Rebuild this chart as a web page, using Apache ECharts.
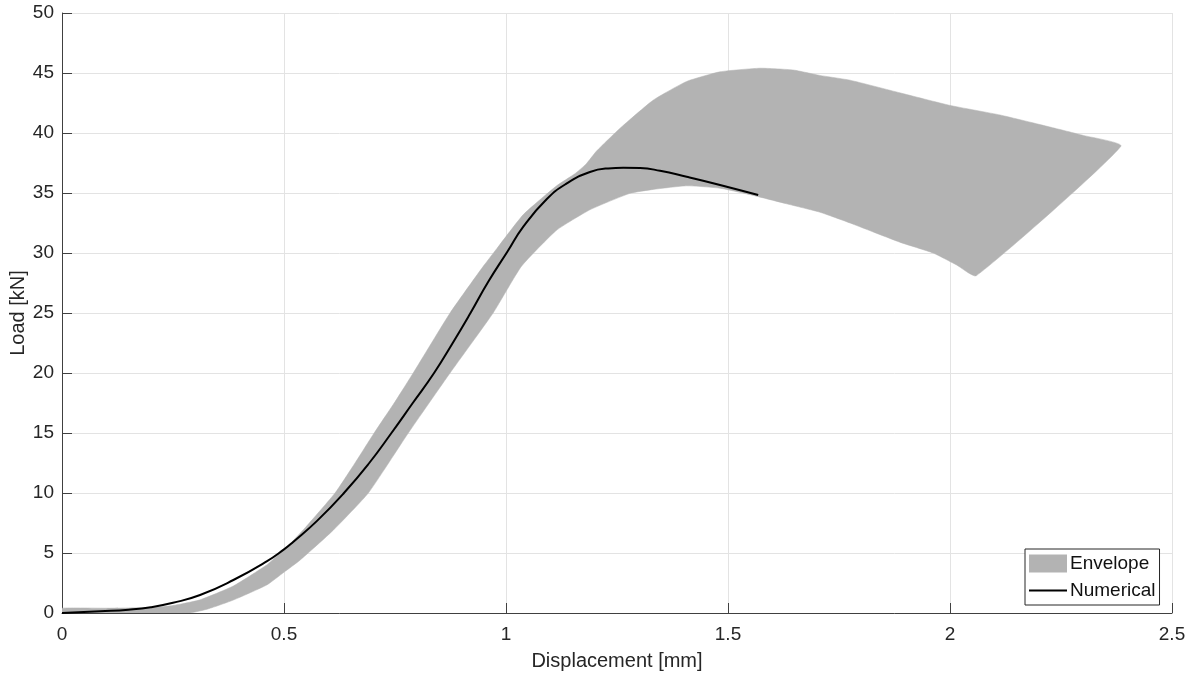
<!DOCTYPE html>
<html>
<head>
<meta charset="utf-8">
<script src="https://cdn.jsdelivr.net/npm/echarts@6/dist/echarts.min.js"></script>
<style>
  html, body { margin: 0; padding: 0; background: #ffffff; }
  #chart { width: 1195px; height: 673px; }
</style>
</head>
<body>
<div id="chart"></div>
<script>
// Tick labels / axis ranges
const xTicks = [0, 0.5, 1, 1.5, 2, 2.5];
const yTicks = [0, 5, 10, 15, 20, 25, 30, 35, 40, 45, 50];

// Envelope upper boundary [displacement mm, load kN] (left to right, ends at right tip)
const envelopeUpper = [
  [0, 0.4], [0.1, 0.4], [0.2, 0.45], [0.25, 0.62], [0.311, 1.1], [0.386, 2.25],
  [0.461, 4.0], [0.485, 4.8], [0.52, 6.0], [0.55, 7.2], [0.615, 10.0], [0.66, 12.5],
  [0.703, 15.0], [0.75, 17.6], [0.791, 20.0], [0.874, 25.0], [0.945, 28.7], [0.98, 30.4],
  [1.039, 33.2], [1.114, 35.6], [1.155, 36.6], [1.18, 37.4], [1.204, 38.5], [1.257, 40.4],
  [1.332, 42.75], [1.407, 44.3], [1.482, 45.1], [1.572, 45.4], [1.647, 45.25], [1.707, 44.8],
  [1.775, 44.4], [1.887, 43.35], [2.0, 42.3], [2.113, 41.5], [2.225, 40.5], [2.3, 39.8],
  [2.385, 38.9]
];
// Envelope lower boundary (left to right, ends at bottom tip)
const envelopeLower = [
  [0, 0], [0.2, 0], [0.288, 0], [0.33, 0.35], [0.386, 1.08], [0.461, 2.33], [0.5, 3.4],
  [0.536, 4.4], [0.611, 6.9], [0.69, 10.0], [0.78, 15.0], [0.874, 20.0], [0.971, 25.0],
  [1.035, 28.9], [1.114, 31.9], [1.189, 33.6], [1.279, 34.97], [1.332, 35.3], [1.407, 35.6],
  [1.482, 35.4], [1.557, 34.8], [1.632, 34.1], [1.707, 33.4], [1.775, 32.5], [1.887, 30.9],
  [1.962, 30.0], [2.015, 29.0], [2.059, 28.1]
];
// Numerical curve
const numerical = [
  [0, 0], [0.086, 0.15], [0.15, 0.28], [0.2, 0.48], [0.25, 0.85], [0.311, 1.5], [0.386, 2.75],
  [0.461, 4.3], [0.5, 5.3], [0.52, 5.9], [0.575, 7.7], [0.635, 10.0], [0.692, 12.5],
  [0.742, 15.0], [0.79, 17.5], [0.838, 20.0], [0.88, 22.5], [0.92, 25.0], [0.96, 27.6],
  [1.003, 30.1], [1.039, 32.2], [1.092, 34.5], [1.137, 35.8], [1.189, 36.75], [1.23, 37.05],
  [1.264, 37.1], [1.302, 37.08], [1.347, 36.85], [1.407, 36.35], [1.482, 35.67], [1.568, 34.83]
];

const envelopePolygon = envelopeUpper.concat(envelopeLower.slice().reverse());

const FONT = '"Liberation Sans", Arial, Helvetica, sans-serif';
const AXIS_COLOR = '#404040';
const TEXT_COLOR = '#262626';
const GRID_COLOR = '#e3e3e3';

const chart = echarts.init(document.getElementById('chart'), null, { renderer: 'canvas' });

chart.setOption({
  animation: false,
  backgroundColor: '#ffffff',
  grid: { left: 62, right: 23, top: 13, bottom: 60, containLabel: false, outerBoundsMode: 'none' },
  xAxis: {
    type: 'value',
    min: xTicks[0], max: xTicks[xTicks.length - 1], interval: 0.5,
    name: 'Displacement [mm]',
    nameLocation: 'middle',
    nameGap: 38,
    nameTextStyle: { fontFamily: FONT, fontSize: 20, color: TEXT_COLOR },
    axisLine: { show: true, lineStyle: { color: AXIS_COLOR, width: 1 } },
    axisTick: { show: true, inside: true, length: 10, lineStyle: { color: AXIS_COLOR } },
    axisLabel: { fontFamily: FONT, fontSize: 19, color: TEXT_COLOR, margin: 12 },
    splitLine: { show: true, lineStyle: { color: GRID_COLOR, width: 1 } }
  },
  yAxis: {
    type: 'value',
    min: yTicks[0], max: yTicks[yTicks.length - 1], interval: 5,
    name: 'Load [kN]',
    nameLocation: 'middle',
    nameGap: 34,
    nameMoveOverlap: false,
    nameRotate: 90,
    nameTextStyle: { fontFamily: FONT, fontSize: 20, color: TEXT_COLOR },
    axisLine: { show: true, lineStyle: { color: AXIS_COLOR, width: 1 } },
    axisTick: { show: true, inside: true, length: 10, lineStyle: { color: AXIS_COLOR } },
    axisLabel: { fontFamily: FONT, fontSize: 19, color: TEXT_COLOR, margin: 8 },
    splitLine: { show: true, lineStyle: { color: GRID_COLOR, width: 1 } }
  },
  legend: {
    orient: 'vertical',
    left: 1025, top: 549,
    padding: [5, 4, 5, 3],
    itemGap: 8,
    itemWidth: 38,
    itemHeight: 18,
    borderColor: '#262626',
    borderWidth: 1,
    backgroundColor: '#ffffff',
    borderRadius: 0,
    selectedMode: false,
    textStyle: { fontFamily: FONT, fontSize: 19, color: '#111111', padding: [0, 0, 0, -2] },
    data: [
      { name: 'Envelope', icon: 'rect' },
      { name: 'Numerical', itemStyle: { color: 'rgba(0,0,0,0)', borderWidth: 0, opacity: 0 } }
    ]
  },
  series: [
    {
      name: 'Envelope',
      type: 'custom',
      clip: true,
      itemStyle: { color: '#b3b3b3' },
      data: envelopePolygon,
      encode: { x: 0, y: 1 },
      renderItem: function (params, api) {
        if (params.dataIndex !== 0) return null;
        const pts = envelopePolygon.map(p => api.coord(p));
        return {
          type: 'polygon',
          shape: { points: pts, smooth: 0.15 },
          style: { fill: '#b3b3b3', stroke: '#b3b3b3', lineWidth: 0.5 }
        };
      },
      z: 2
    },
    {
      name: 'Numerical',
      type: 'line',
      data: numerical,
      symbol: 'none',
      smooth: 0.5,
      lineStyle: { color: '#000000', width: 2 },
      itemStyle: { color: '#000000' },
      z: 3
    }
  ]
});
</script>
</body>
</html>
